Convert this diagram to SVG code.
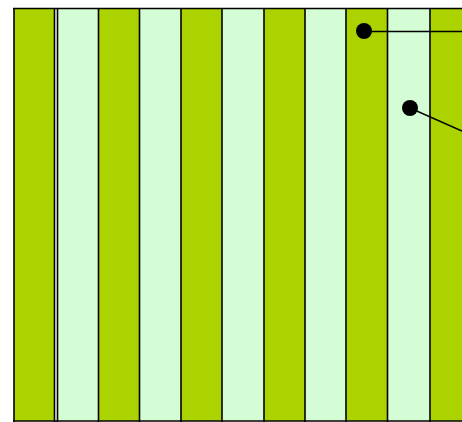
<svg xmlns="http://www.w3.org/2000/svg" width="462" height="422" viewBox="0 0 462 422">
  <style>
    .g { fill: #aad300; }
    .l { fill: #d5fdd5; }
    .div { stroke: #000; stroke-width: 1.6; fill: none; }
    .dot { fill: #000; }
    .lead { stroke: #000; stroke-width: 1.4; fill: none; }
  </style>
  <rect width="462" height="422" fill="#ffffff"/>
  <g id="stripes">
    <rect class="g" x="14" y="9" width="41" height="412"/>
    <rect class="l" x="57" y="9" width="41" height="412"/>
    <rect class="g" x="98" y="9" width="41" height="412"/>
    <rect class="l" x="139" y="9" width="42" height="412"/>
    <rect class="g" x="181" y="9" width="41" height="412"/>
    <rect class="l" x="222" y="9" width="42" height="412"/>
    <rect class="g" x="264" y="9" width="41" height="412"/>
    <rect class="l" x="305" y="9" width="41" height="412"/>
    <rect class="g" x="346" y="9" width="41" height="412"/>
    <rect class="l" x="387" y="9" width="43" height="412"/>
    <rect class="g" x="430" y="9" width="32" height="412"/>
  </g>
  <g id="borders">
    <line class="div" x1="13" y1="8.5" x2="462" y2="8.5"/>
    <line class="div" x1="13" y1="421" x2="462" y2="421"/>
    <line class="div" x1="14" y1="8" x2="14" y2="422"/>
    <line class="div" x1="54.5" y1="8" x2="54.5" y2="422"/>
    <line class="div" x1="57.5" y1="8" x2="57.5" y2="422"/>
    <line class="div" x1="98.5" y1="8" x2="98.5" y2="422"/>
    <line class="div" x1="139.5" y1="8" x2="139.5" y2="422"/>
    <line class="div" x1="181" y1="8" x2="181" y2="422"/>
    <line class="div" x1="222" y1="8" x2="222" y2="422"/>
    <line class="div" x1="264" y1="8" x2="264" y2="422"/>
    <line class="div" x1="305" y1="8" x2="305" y2="422"/>
    <line class="div" x1="346" y1="8" x2="346" y2="422"/>
    <line class="div" x1="387.5" y1="8" x2="387.5" y2="422"/>
    <line class="div" x1="430" y1="8" x2="430" y2="422"/>
  </g>
  <g id="connectors">
    <line class="lead" x1="364" y1="31.5" x2="462" y2="31.5"/>
    <line class="lead" x1="410" y1="108" x2="462" y2="131"/>
  </g>
  <g id="dot1"><circle class="dot" cx="364" cy="31" r="8"/></g>
  <g id="dot2"><circle class="dot" cx="410" cy="108" r="8"/></g>
</svg>
